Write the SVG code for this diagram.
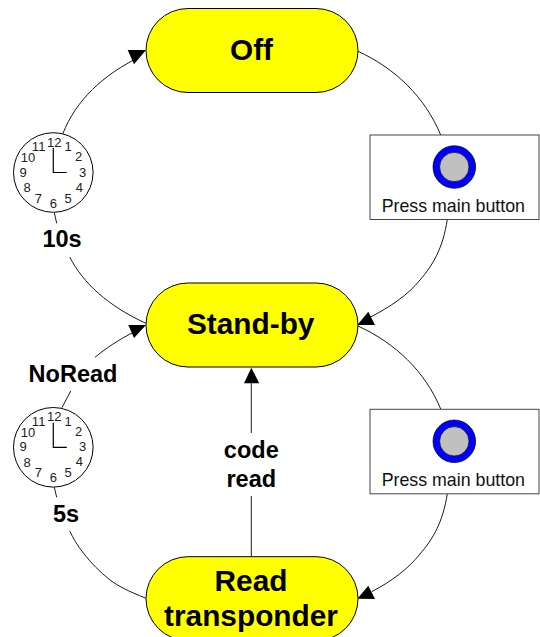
<svg xmlns="http://www.w3.org/2000/svg" width="540" height="637" viewBox="0 0 540 637">
<style>
.st{fill:#ff0;stroke:#000;stroke-width:1}
.b{font-family:"Liberation Sans",Arial,sans-serif;font-weight:bold;fill:#000;text-anchor:middle}
.lbl{font-size:29.800px}
.sm{font-size:23.500px}
.c{fill:#fff;stroke:#000;stroke-width:1}
.n{font-family:"Liberation Sans",Arial,sans-serif;font-size:13px;fill:#222;text-anchor:middle}
.h{stroke:#000;stroke-width:1.2;fill:none}
.box{fill:#fff;stroke:#444;stroke-width:1}
.ring{fill:#c0c0c0;stroke:#00f;stroke-width:6.600}
.ringo{fill:none;stroke:#000;stroke-width:.7}
.p{font-family:"Liberation Sans",Arial,sans-serif;font-size:17.800px;fill:#111;text-anchor:middle}
.l{fill:none;stroke:#000;stroke-width:.9}
</style>
<defs>
<g id="clockface">
<circle class="c" cx="0" cy="0" r="39.800"/>
<text class="n" x="14.700" y="-21.500">1</text>
<text class="n" x="25.400" y="-11.500">2</text>
<text class="n" x="29.400" y="4">3</text>
<text class="n" x="26" y="19">4</text>
<text class="n" x="14.700" y="30">5</text>
<text class="n" x="0" y="35">6</text>
<text class="n" x="-15" y="30">7</text>
<text class="n" x="-26.300" y="19.500">8</text>
<text class="n" x="-30.300" y="4">9</text>
<text class="n" x="-25.300" y="-10.500">10</text>
<text class="n" x="-14.700" y="-21.500">11</text>
<text class="n" x="1" y="-26">12</text>
<path class="h" d="M0,-24.500V0H13.500"/>
</g>
<g id="press">
<rect class="box" x="0" y="0" width="169" height="84.500"/>
<circle class="ring" cx="84.300" cy="32" r="18"/>
<circle class="ringo" cx="84.300" cy="32" r="21.300"/>
<circle class="ringo" cx="84.300" cy="32" r="14.700"/>
<text class="p" x="83.300" y="77">Press main button</text>
</g>
</defs>
<g id="connectors">
<path class="l" d="M140,56.700C103,75 76,100 62.700,134"/>
<path class="l" d="M54.300,212.700L56.700,223.300"/>
<path class="l" d="M69.700,257C83,283 108,306 146,323.300"/>
<path class="l" d="M357.300,51C395,68 425,97 440.700,135"/>
<path class="l" d="M447.300,219.300C443,248 433,265 420,280C408,295 390,307 370,317.300"/>
<path class="l" d="M358,326C395,343 425,371 440.700,409"/>
<path class="l" d="M447.300,493.700C443,522 433,539 420,554C408,569 392,581 371.700,591.700"/>
<path class="l" d="M251.300,556.700V496M251.300,433V383"/>
<path class="l" d="M146,598.300C128,591 118,586 110,580C100,572 91,563 83.300,553C77,545 73,538 69.700,531"/>
<path class="l" d="M95,357.300C105,349 118,340 134,332"/>
<path class="l" d="M70.700,391L62,407.700"/>
<path class="l" d="M54.300,487.300L56.700,497.300"/>
<polygon points="146,50 127.700,50 134,64.300" fill="#000"/>
<polygon points="146,325 128.300,325 134,338" fill="#000"/>
<polygon points="357.300,325 375,325 368.300,311.700" fill="#000"/>
<polygon points="357.300,598.700 375,599 368.300,585.700" fill="#000"/>
<polygon points="251.300,367.700 244,383.300 259.300,383.300" fill="#000"/>
</g>
<g id="off"><rect class="st" x="146" y="8.500" width="212" height="84" rx="42"/><text class="b lbl" x="251.500" y="60">Off</text></g>
<g id="standby"><rect class="st" x="146" y="283" width="212" height="84" rx="42"/><text class="b lbl" x="250.700" y="334">Stand-by</text></g>
<g id="read"><rect class="st" x="146" y="556.700" width="212" height="84" rx="42"/><text class="b lbl" x="251" y="590.500">Read</text><text class="b lbl" x="251" y="626">transponder</text></g>
<g id="clock1"><use href="#clockface" transform="translate(53.300,172.500)"/></g>
<g id="clock2"><use href="#clockface" transform="translate(53.300,447.300)"/></g>
<g id="press1"><use href="#press" transform="translate(370,135)"/></g>
<g id="press2"><use href="#press" transform="translate(370,409.300)"/></g>
<g id="lbl10s"><text class="b sm" x="62" y="246.700">10s</text></g>
<g id="lblnoread"><text class="b sm" x="73" y="381.700">NoRead</text></g>
<g id="lbl5s"><text class="b sm" x="66" y="521.700">5s</text></g>
<g id="lblcode"><text class="b sm" x="251.300" y="457.700">code</text><text class="b sm" x="251.300" y="487">read</text></g>
</svg>
